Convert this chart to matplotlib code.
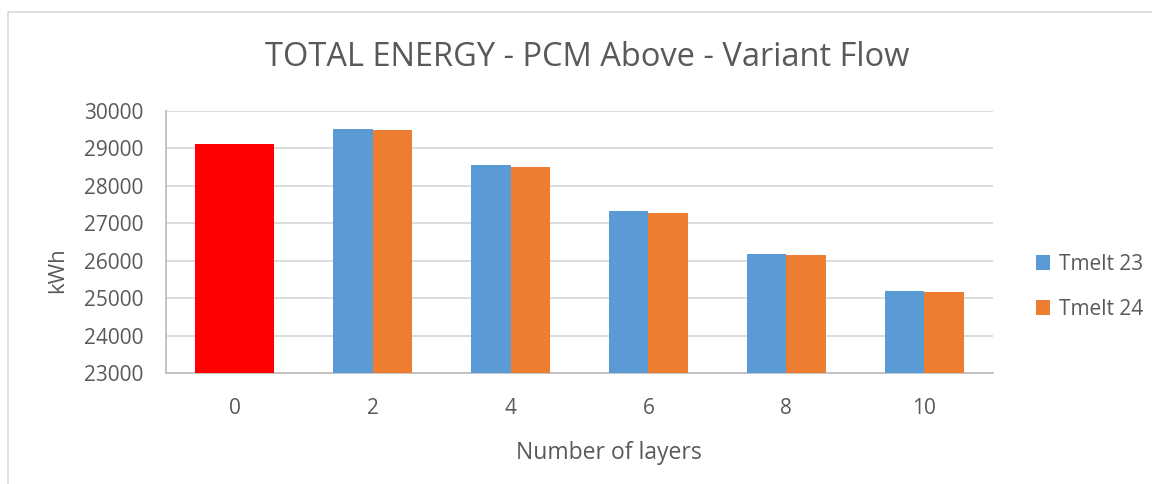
import matplotlib
matplotlib.use("Agg")
import matplotlib.pyplot as plt
import numpy as np
from matplotlib.patches import Rectangle

categories = ["0", "2", "4", "6", "8", "10"]
baseline = [29115]
tmelt23 = [29507, 28547, 27320, 26180, 25195]
tmelt24 = [29480, 28510, 27283, 26163, 25168]
yticks = [23000, 24000, 25000, 26000, 27000, 28000, 29000, 30000]

plt.rcParams['font.family'] = ['Open Sans', 'DejaVu Sans']
txt = '#595959'

W, H = 1152, 484
fig = plt.figure(figsize=(W/100, H/100), dpi=100)
# chart border (right and bottom edges lie outside the image)
fig.patches.append(Rectangle((8/W, -0.5), 2, 1.5 - 12/H, transform=fig.transFigure,
                             fill=False, edgecolor='#d9d9d9', linewidth=1.2))

x0, x1 = 166, 993
y0, y1 = 110.7, 373.3
ax = fig.add_axes([x0/W, 1 - y1/H, (x1-x0)/W, (y1-y0)/H])

x = np.arange(len(categories))
w = 0.287
ax.bar(x[0], baseline[0], width=2*w, bottom=0, color='#FF0000', zorder=3)
ax.bar(x[1:] - w/2, tmelt23, width=w, color='#5B9BD5', zorder=3, label='Tmelt 23')
ax.bar(x[1:] + w/2, tmelt24, width=w, color='#ED7D31', zorder=3, label='Tmelt 24')

ax.set_ylim(23000, 30000)
ax.set_xlim(-0.5, len(categories) - 0.5)
ax.set_yticks(yticks)
ax.set_yticklabels([str(v) for v in yticks])
ax.set_xticks(x)
ax.set_xticklabels(categories)
ax.grid(axis='y', color='#d9d9d9', linewidth=1.3, zorder=0)
ax.set_axisbelow(True)
for s in ['top', 'right']:
    ax.spines[s].set_visible(False)
for s in ['left', 'bottom']:
    ax.spines[s].set_color('#bfbfbf')
    ax.spines[s].set_linewidth(1.3)
ax.tick_params(axis='both', length=0, labelsize=15, colors=txt)
ax.tick_params(axis='y', pad=16)
ax.tick_params(axis='x', pad=18)

fig.text(58/W, 1 - 270/H, 'kWh', rotation=90, ha='center', va='center', fontsize=16, color=txt)
fig.text(609/W, 1 - 453/H, 'Number of layers', ha='center', va='center', fontsize=16.5, color=txt)
fig.text(587/W, 1 - 57/H, 'TOTAL ENERGY - PCM Above - Variant Flow', ha='center', va='center',
         fontsize=23.5, color=txt)

ax.legend(loc='center left', bbox_to_anchor=(1017/W, 1 - 287/H), bbox_transform=fig.transFigure,
          frameon=False, fontsize=15, labelcolor=txt, handlelength=0.7, handleheight=0.7,
          handletextpad=0.4, labelspacing=1.15)

fig.savefig('out.png', dpi=100)
